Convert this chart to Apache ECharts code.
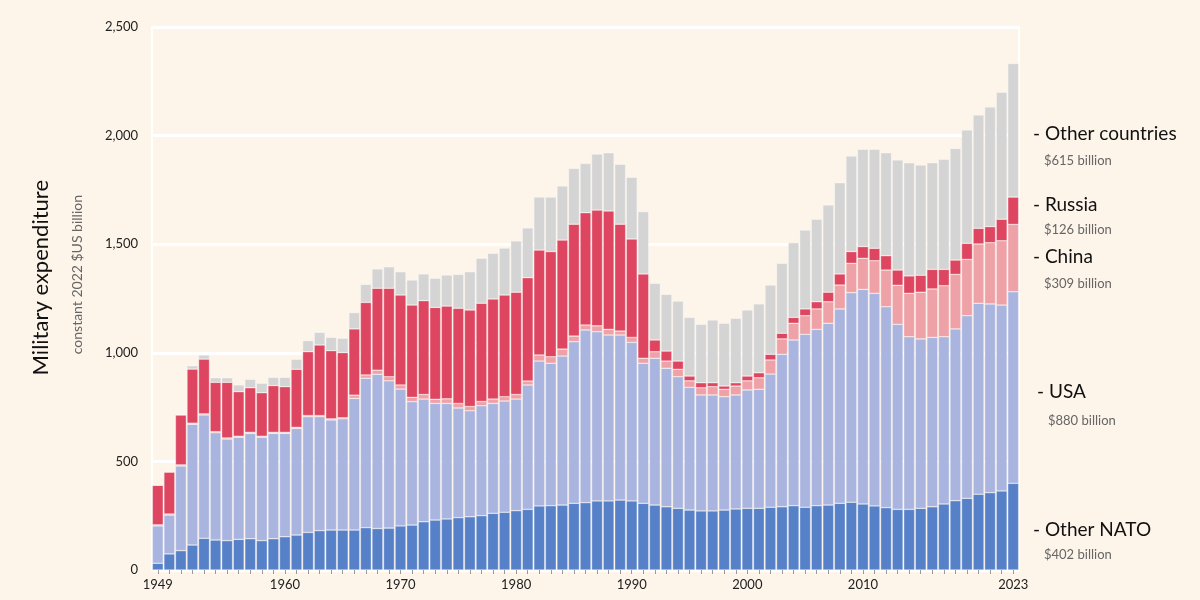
<!DOCTYPE html>
<html><head><meta charset="utf-8">
<script src="https://cdn.jsdelivr.net/npm/echarts@6/dist/echarts.min.js"></script>
<style>html,body{margin:0;padding:0;background:#fdf4ea}#c{width:1200px;height:600px}</style>
</head><body><div id="c"></div>
<script>
// cumulative stack tops (constant 2022 $US billion)
const years = []; for (let y = 1949; y <= 2023; y++) years.push(String(y));
const natoTop = [31,74,89,115,146,138,135,141,144,135,144,153,161,173,181,184,184,
184,195,191,193,203,207,222,230,235,241,245,250,261,266,273,279,295,296,299,307,310,318,318,322,318,307,299,291,284,276,272,272,276,281,284,284,289,291,296,289,296,299,307,312,304,295,287,279,279,284,291,304,319,330,349,356,364,399];
const usaTop = [203,253,479,671,714,632,603,611,629,611,629,629,652,706,706,691,696,
790,883,901,871,833,775,787,767,767,746,733,756,767,778,787,852,962,952,985,1051,1105,1097,1082,1082,1048,952,975,929,890,841,806,806,798,806,829,832,902,993,1059,1085,1108,1136,1202,1277,1292,1274,1212,1131,1074,1064,1071,1074,1110,1171,1228,1225,1220,1281];
const chinaTop = [208,258,484,676,719,637,608,616,634,616,634,634,657,711,711,696,701,
805,898,920,890,852,795,808,786,788,767,753,776,787,798,808,870,990,982,1017,1077,1128,1124,1108,1100,1071,975,1005,962,924,871,839,844,832,847,871,885,967,1064,1136,1171,1202,1235,1312,1412,1435,1424,1381,1311,1274,1279,1294,1309,1361,1430,1501,1507,1516,1591];
const russiaTop = [390,451,714,925,971,864,864,821,839,816,849,844,924,1005,1036,1010,1001,
1110,1232,1297,1297,1266,1220,1240,1209,1215,1205,1197,1228,1248,1266,1279,1346,1473,1466,1519,1592,1645,1657,1653,1592,1524,1363,1059,1008,962,893,862,862,847,862,893,908,993,1090,1163,1202,1235,1279,1363,1466,1489,1481,1447,1381,1354,1357,1384,1384,1427,1504,1573,1581,1615,1717];
const totalTop = [390,451,714,940,990,885,885,852,878,860,887,887,970,1056,1094,1071,1067,
1185,1315,1386,1396,1373,1335,1363,1343,1358,1361,1373,1435,1458,1482,1515,1575,1717,1717,1768,1849,1872,1915,1921,1868,1808,1650,1320,1269,1238,1163,1131,1151,1136,1159,1197,1225,1312,1412,1507,1565,1615,1681,1783,1906,1937,1937,1921,1888,1875,1865,1875,1891,1941,2026,2095,2132,2200,2332];
const shownYears = ['1949','1960','1970','1980','1990','2000','2010','2023'];

const diff = (a, b) => a.map((v, i) => Math.max(0, v - (b ? b[i] : 0)));
const layers = [
  ['Other NATO', natoTop, null, '#5680c8'],
  ['USA', usaTop, natoTop, '#aab5df'],
  ['China', chinaTop, usaTop, '#eea1a6'],
  ['Russia', russiaTop, chinaTop, '#dd4560'],
  ['Other countries', totalTop, russiaTop, '#d4d4d4']
];
const chart = echarts.init(document.getElementById('c'));
const F = 'Lato, "Open Sans", sans-serif';
const txt = (x, y, t, size, color) => ({type:'text', left:x, top:y, style:{text:t, font:`${size}px ${F}`, fill:color}});
chart.setOption({
  backgroundColor: '#fdf4ea',
  animation: false,
  grid: {left: 152, right: 181, top: 27, bottom: 30},
  xAxis: {
    type: 'category', data: years,
    axisLine: {lineStyle: {color: '#ffffff', width: 2}},
    axisTick: {show: true, alignWithLabel: true, interval: 0, lineStyle: {color: '#999'}, length: 4},
    axisLabel: {interval: 0, formatter: v => shownYears.includes(v) ? v : '', color: '#222', fontFamily: F, fontSize: 13, margin: 8},
    splitLine: {show: false}
  },
  yAxis: {
    type: 'value', min: 0, max: 2500, interval: 500,
    axisLine: {show: true, lineStyle: {color: '#ffffff', width: 2}},
    axisLabel: {color: '#222', fontFamily: F, fontSize: 13, margin: 14},
    splitLine: {lineStyle: {color: '#ffffff', width: 3}}
  },
  series: layers.map(([name, top, base, color]) => ({
    name, type: 'bar', stack: 'all', data: diff(top, base),
    barCategoryGap: '6%',
    itemStyle: {color, borderColor: 'rgba(255,255,255,0.7)', borderWidth: 0.5}
  })),
  graphic: [
    {type:'text', left:30, top:180, rotation:Math.PI/2, style:{text:'Military expenditure', font:`22px ${F}`, fill:'#111'}, x:40, y:0},
    {type:'text', left:70, top:195, rotation:Math.PI/2, style:{text:'constant 2022 $US billion', font:`14px ${F}`, fill:'#666'}},
    txt(443, 340, 'Soviet', 19, '#ffffff'),
    {type:'line', shape:{x1:1019,y1:27,x2:1019,y2:570}, style:{stroke:'#fff', lineWidth:2}},
    txt(1033, 124, '- Other countries', 19, '#111'),
    txt(1044, 154, '$615 billion', 13, '#666'),
    txt(1033, 195, '- Russia', 19, '#111'),
    txt(1044, 223, '$126 billion', 13, '#666'),
    txt(1033, 247, '- China', 19, '#111'),
    txt(1044, 277, '$309 billion', 13, '#666'),
    txt(1037, 382, '- USA', 19, '#111'),
    txt(1048, 414, '$880 billion', 13, '#666'),
    txt(1033, 520, '- Other NATO', 19, '#111'),
    txt(1044, 548, '$402 billion', 13, '#666')
  ]
});
</script></body></html>
